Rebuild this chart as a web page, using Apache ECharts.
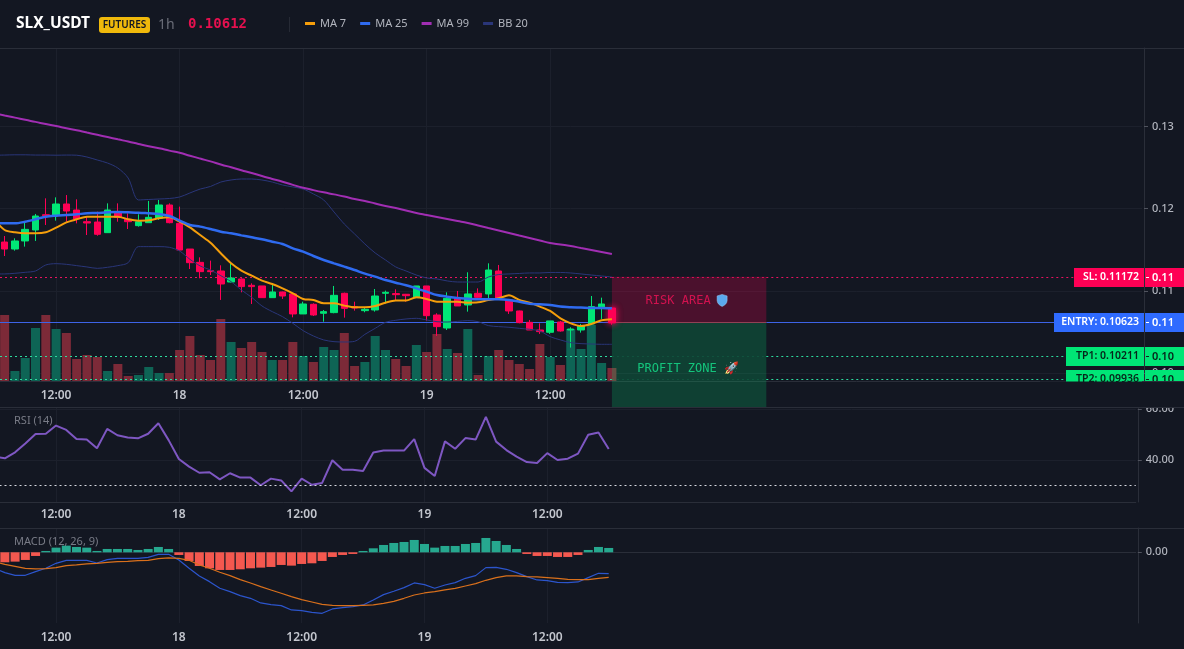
<!DOCTYPE html>
<html>
<head>
<meta charset="utf-8">
<title>SLX_USDT 1h</title>
<style>
  html, body { margin: 0; padding: 0; background: #131722; }
  #chart { width: 1184px; height: 649px; }
</style>
<script src="https://cdn.jsdelivr.net/npm/echarts@6/dist/echarts.min.js"></script>
</head>
<body>
<div id="chart"></div>
<script>
// Hourly candles [open, close, low, high]; the first one sits just left of the visible range.
const candles = [
  [0.1170,0.1163,0.1158,0.1175],
  [0.11595,0.11510,0.11425,0.11668],[0.11510,0.11608,0.11490,0.11640],[0.11608,0.11749,0.11539,0.11830],
  [0.11741,0.11911,0.11608,0.11936],[0.11927,0.11915,0.11802,0.12126],[0.11923,0.12057,0.11855,0.12138],
  [0.12057,0.11972,0.11842,0.12166],[0.11984,0.11875,0.11822,0.12114],[0.11842,0.11826,0.11680,0.11903],
  [0.11838,0.11689,0.11672,0.11964],[0.11709,0.11984,0.11709,0.12065],[0.11956,0.11895,0.11842,0.12065],
  [0.11871,0.11842,0.11753,0.11944],[0.11794,0.11842,0.11782,0.11932],[0.11830,0.11895,0.11830,0.12094],
  [0.11883,0.12045,0.11863,0.12106],[0.12045,0.11830,0.11822,0.12065],[0.11822,0.11498,0.11490,0.12025],
  [0.11510,0.11344,0.11267,0.11510],[0.11348,0.11235,0.11154,0.11409],[0.11247,0.11235,0.11194,0.11369],
  [0.11243,0.11085,0.10891,0.11312],[0.11109,0.11158,0.11105,0.11336],[0.11146,0.11053,0.10984,0.11154],
  [0.11069,0.11053,0.10842,0.11093],[0.11061,0.10919,0.10919,0.11061],[0.10919,0.10988,0.10919,0.11093],
  [0.10988,0.10939,0.10903,0.10992],[0.10964,0.10721,0.10680,0.10972],[0.10721,0.10842,0.10721,0.10870],
  [0.10838,0.10708,0.10696,0.10850],[0.10729,0.10749,0.10627,0.10769],[0.10737,0.10947,0.10729,0.11061],
  [0.10972,0.10789,0.10676,0.10980],[0.10810,0.10793,0.10761,0.10870],[0.10761,0.10777,0.10741,0.10802],
  [0.10769,0.10939,0.10749,0.11024],[0.10972,0.10984,0.10850,0.11004],[0.10968,0.10955,0.10891,0.11020],
  [0.10960,0.10943,0.10870,0.10964],[0.10919,0.11061,0.10919,0.11061],[0.11061,0.10700,0.10640,0.11061],
  [0.10708,0.10567,0.10453,0.10729],[0.10550,0.10911,0.10526,0.10984],[0.10919,0.10818,0.10818,0.11000],
  [0.10830,0.10964,0.10749,0.11227],[0.10972,0.10923,0.10919,0.11032],[0.10964,0.11255,0.10911,0.11336],
  [0.11243,0.10911,0.10903,0.11316],[0.10891,0.10757,0.10721,0.10903],[0.10757,0.10615,0.10607,0.10761],
  [0.10619,0.10526,0.10526,0.10648],[0.10526,0.10506,0.10478,0.10607],[0.10498,0.10636,0.10478,0.10636],
  [0.10623,0.10514,0.10506,0.10636],[0.10526,0.10538,0.10312,0.10559],[0.10526,0.10579,0.10494,0.10599],
  [0.10599,0.10810,0.10587,0.10939],[0.10802,0.10842,0.10660,0.10919],[0.10793,0.10612,0.10590,0.10800]
];
const volumes = [40,66,10,23,53,66,52,48,22,26,24,10,17,5,6,14,8,8,31,45,26,21,62,39,33,39,29,21,21,39,25,
  19,34,31,48,15,19,45,31,22,15,36,29,47,32,28,52,6,25,31,21,17,12,37,24,16,52,32,56,18,13];
const ma7 = [0.11871,0.11741,0.11713,0.11701,0.11701,0.11713,0.11770,0.11834,0.11871,0.11903,0.11903,0.11903,0.11903,
  0.11871,0.11855,0.11859,0.11883,0.11895,0.11842,0.11774,0.11680,0.11587,0.11458,0.11336,0.11247,0.11186,0.11126,
  0.11085,0.11032,0.10972,0.10903,0.10891,0.10850,0.10850,0.10822,0.10802,0.10802,0.10818,0.10858,0.10883,0.10883,
  0.10923,0.10903,0.10870,0.10870,0.10870,0.10858,0.10862,0.10891,0.10911,0.10947,0.10891,0.10858,0.10810,0.10757,
  0.10668,0.10607,0.10575,0.10599,0.10644,0.10656];
const ma25 = [0.11830,0.11822,0.11822,0.11842,0.11871,0.11903,0.11915,0.11923,0.11932,0.11944,0.11948,0.11956,0.11960,
  0.11956,0.11952,0.11944,0.11936,0.11911,0.11855,0.11802,0.11782,0.11753,0.11721,0.11701,0.11676,0.11652,0.11628,
  0.11599,0.11571,0.11518,0.11478,0.11425,0.11377,0.11336,0.11296,0.11255,0.11211,0.11174,0.11134,0.11101,0.11069,
  0.11032,0.10992,0.10951,0.10931,0.10915,0.10907,0.10899,0.10899,0.10899,0.10891,0.10870,0.10846,0.10838,0.10830,
  0.10810,0.10802,0.10798,0.10793,0.10793,0.10789];
const ma99 = [0.13158,0.13132,0.13107,0.13080,0.13055,0.13029,0.13005,0.12978,0.12953,0.12925,0.12898,0.12871,0.12843,
  0.12816,0.12787,0.12759,0.12734,0.12706,0.12679,0.12644,0.12609,0.12575,0.12538,0.12503,0.12468,0.12434,0.12397,
  0.12362,0.12327,0.12290,0.12255,0.12226,0.12199,0.12174,0.12148,0.12118,0.12094,0.12063,0.12033,0.12008,0.11978,
  0.11948,0.11923,0.11899,0.11875,0.11851,0.11826,0.11796,0.11765,0.11735,0.11705,0.11674,0.11644,0.11614,0.11583,
  0.11565,0.11547,0.11522,0.11498,0.11474,0.11450];
const bbUpper = [0.12650,0.12652,0.12655,0.12655,0.12652,0.12652,0.12650,0.12652,0.12650,0.12628,0.12592,0.12555,0.12494,
  0.12373,0.12106,0.12112,0.12118,0.12124,0.12142,0.12191,0.12239,0.12270,0.12324,0.12349,0.12361,0.12361,0.12349,
  0.12324,0.12288,0.12264,0.12239,0.12179,0.12106,0.11960,0.11814,0.11693,0.11571,0.11462,0.11377,0.11292,0.11243,
  0.11194,0.11158,0.11146,0.11122,0.11109,0.11109,0.11109,0.11170,0.11200,0.11207,0.11213,0.11219,0.11219,0.11225,
  0.11225,0.11219,0.11207,0.11194,0.11182,0.11170];
const bbLower = [0.11207,0.11207,0.11215,0.11227,0.11243,0.11316,0.11332,0.11324,0.11308,0.11292,0.11275,0.11288,0.11308,
  0.11344,0.11539,0.11539,0.11539,0.11531,0.11486,0.11385,0.11304,0.11255,0.11186,0.11113,0.11012,0.10923,0.10818,
  0.10749,0.10688,0.10607,0.10518,0.10453,0.10405,0.10384,0.10380,0.10388,0.10473,0.10546,0.10619,0.10644,0.10660,
  0.10668,0.10648,0.10627,0.10623,0.10631,0.10640,0.10627,0.10579,0.10567,0.10559,0.10546,0.10534,0.10514,0.10445,
  0.10405,0.10372,0.10360,0.10356,0.10352,0.10352];
const rsi = [41.3,40.65,43.0,46.5,50.2,50.3,53.5,51.8,48.2,48.0,44.6,52.2,49.7,48.8,48.5,50.3,54.4,47.8,40.4,37.4,35.0,35.2,
  32.4,34.8,33.1,33.1,30.1,32.7,32.0,27.7,32.7,30.3,31.0,39.9,36.2,36.2,35.7,42.9,43.7,43.7,43.7,48.2,36.9,33.7,47.3,44.4,
  48.6,48.0,56.9,47.2,43.9,41.3,39.2,38.8,42.7,40.0,40.5,42.5,49.9,50.8,44.3];
const macdHist = [-0.00032,-0.00030,-0.00028,-0.00023,-0.00011,0.00004,0.00014,0.00020,0.00016,0.00014,0.00004,0.00010,0.00010,
  0.00010,0.00007,0.00010,0.00016,0.00010,-0.00008,-0.00026,-0.00041,-0.00048,-0.00053,-0.00053,-0.00051,-0.00048,-0.00046,
  -0.00044,-0.00038,-0.00040,-0.00035,-0.00033,-0.00026,-0.00014,-0.00008,-0.00005,0.00004,0.00012,0.00022,0.00028,0.00031,
  0.00037,0.00025,0.00014,0.00019,0.00019,0.00025,0.00028,0.00043,0.00034,0.00022,0.00010,-0.00005,-0.00011,-0.00011,
  -0.00014,-0.00014,-0.00008,0.00007,0.00016,0.00013];
const macdLine = [-0.00048,-0.00061,-0.00069,-0.00069,-0.00058,-0.00048,-0.00033,-0.00024,-0.00024,-0.00024,-0.00032,-0.00022,
  -0.00018,-0.00018,-0.00018,-0.00015,-0.00006,-0.00006,-0.00023,-0.00048,-0.00071,-0.00088,-0.00108,-0.00118,-0.00130,
  -0.00138,-0.00152,-0.00157,-0.00160,-0.00173,-0.00175,-0.00180,-0.00183,-0.00170,-0.00166,-0.00163,-0.00158,-0.00143,
  -0.00127,-0.00117,-0.00106,-0.00092,-0.00097,-0.00108,-0.00098,-0.00091,-0.00078,-0.00070,-0.00046,-0.00045,-0.00051,
  -0.00061,-0.00073,-0.00083,-0.00085,-0.00090,-0.00091,-0.00089,-0.00076,-0.00063,-0.00064];
const macdSignal = [-0.00028,-0.00036,-0.00042,-0.00048,-0.00050,-0.00049,-0.00046,-0.00040,-0.00038,-0.00035,-0.00033,-0.00030,
  -0.00028,-0.00027,-0.00025,-0.00024,-0.00019,-0.00017,-0.00018,-0.00024,-0.00038,-0.00048,-0.00060,-0.00070,-0.00082,
  -0.00092,-0.00103,-0.00113,-0.00123,-0.00133,-0.00142,-0.00149,-0.00156,-0.00159,-0.00160,-0.00160,-0.00159,-0.00158,
  -0.00153,-0.00147,-0.00138,-0.00128,-0.00122,-0.00118,-0.00113,-0.00108,-0.00101,-0.00094,-0.00084,-0.00076,-0.00071,
  -0.00071,-0.00073,-0.00074,-0.00076,-0.00078,-0.00081,-0.00082,-0.00082,-0.00078,-0.00075];

const priceTicks = [0.10, 0.11, 0.12, 0.13];
const rsiTicks = [40, 60];
const macdTicks = [0];
const rsiGuide = 30;

const levelNames = ['SL', 'ENTRY', 'TP1', 'TP2'];
const levelPrices = [0.11172, 0.10623, 0.10211, 0.09936];
const zoneNames = ['RISK AREA', 'PROFIT ZONE 🚀'];
const zoneTops = [0.11172, 0.10623];
const zoneBottoms = [0.10623, 0.09590];
const lastPrice = '0.10612';

// Time axis: one slot per hour, running on past the last candle to the price scale.
const startDay = 17, startHour = 6, slotCount = 112, lastCandle = candles.length - 1, zoneEnd = lastCandle + 15;
const categories = [];
for (let i = 0; i < slotCount; i++) {
  const h = startHour + i;
  categories.push({ day: startDay + Math.floor(h / 24), hour: h % 24 });
}
const slotNames = categories.map(c => c.day + ' ' + String(c.hour).padStart(2, '0') + ':00');
const isTick = i => i <= lastCandle && (categories[i].hour === 0 || categories[i].hour === 12);
const tickText = (v, i) => categories[i].hour === 0 ? String(categories[i].day) : '12:00';

// Palette
const BG = '#131722', GRID = '#1c202c', EDGE = '#2a2e39', LABEL = '#c3c6ce', MUTED = '#b2b5be';
const UP = '#00e676', DOWN = '#ff0055', VOL_UP = '#0e6455', VOL_DOWN = '#7c2a38';
const FONT = '"Noto Sans", sans-serif';

// Pane frames: band widths put the hourly ticks where the panes expect them
const mainGrid = { left: -10.8, top: 48, width: 1152.8, height: 333, outerBoundsMode: 'none' };
const rsiGrid = { left: -10.5, top: 408, width: 1146.3, height: 94, outerBoundsMode: 'none' };
const macdGrid = { left: -10.5, top: 528, width: 1146.3, height: 95, outerBoundsMode: 'none' };

function timeAxis(gridIndex, margin) {
  return {
    type: 'category', gridIndex, data: slotNames, boundaryGap: true,
    axisLine: { show: true, lineStyle: { color: EDGE } },
    axisTick: { show: false },
    axisLabel: { interval: (i) => isTick(i), formatter: tickText, color: LABEL, fontFamily: FONT, fontSize: 12, fontWeight: 600, margin },
    splitLine: { show: true, interval: (i) => isTick(i), alignWithLabel: true, lineStyle: { color: GRID } }
  };
}
function valueAxis(gridIndex, min, max, ticks, digits) {
  return {
    type: 'value', gridIndex, min, max, position: 'right', offset: 2,
    axisLine: { show: true, lineStyle: { color: EDGE } },
    axisTick: { show: true, length: 4, customValues: ticks, lineStyle: { color: '#50535e' } },
    axisLabel: { customValues: ticks, formatter: v => v.toFixed(digits), color: MUTED, fontFamily: FONT, fontSize: 11, fontWeight: 500, margin: 8 },
    splitLine: { show: true, lineStyle: { color: GRID } }
  };
}
function maLine(name, data, color, width, smooth) {
  return { name, type: 'line', data, xAxisIndex: 0, yAxisIndex: 0, symbol: 'none', smooth, z: 6, color,
    lineStyle: { color, width } };
}

// Horizontal order lines with their tags on the price scale.
const lineStyles = [
  { stroke: '#e8125f', dash: [2, 3] }, { stroke: '#3d63e6', dash: null },
  { stroke: '#2ddc9f', dash: [2, 3] }, { stroke: '#2ddc9f', dash: [2, 3] }
];
const tagStyles = [
  { fill: DOWN, text: '#ffffff', left: 1074 }, { fill: '#2f6bff', text: '#ffffff', left: 1054 },
  { fill: UP, text: '#06251a', left: 1066 }, { fill: UP, text: '#06251a', left: 1066 }
];
function renderLevel(params, api) {
  const i = params.dataIndex;
  const y = Math.round(api.coord([0, api.value(1)])[1]) + 0.5;
  const a = api.coord([lastCandle, 0])[0], b = api.coord([zoneEnd, 0])[0];
  const s = lineStyles[i], t = tagStyles[i];
  const seg = (x1, x2, opacity) => ({ type: 'line', shape: { x1, y1: y, x2, y2: y },
    style: { stroke: s.stroke, lineWidth: 1, lineDash: s.dash, opacity } });
  const price = api.value(1);
  return { type: 'group', children: [
    seg(0, a, 1), seg(a, b, i === 0 ? 0.9 : 0.12), seg(b, t.left, 1),
    { type: 'rect', shape: { x: t.left, y: y - 9.5, width: 1144 - t.left, height: 19 }, style: { fill: t.fill } },
    { type: 'rect', shape: { x: 1145, y: y - 9.5, width: 39, height: 19 }, style: { fill: t.fill } },
    { type: 'line', shape: { x1: 1146, y1: y, x2: 1149, y2: y }, style: { stroke: t.text, lineWidth: 1 } },
    { type: 'text', style: { x: 1139, y, text: levelNames[i] + ': ' + price.toFixed(5), fill: t.text,
        font: '600 10.5px ' + FONT, align: 'right', verticalAlign: 'middle' } },
    { type: 'text', style: { x: 1163, y, text: price.toFixed(2), fill: t.text,
        font: '600 11px ' + FONT, align: 'center', verticalAlign: 'middle' } }
  ] };
}

// Shaded risk and profit blocks to the right of the last candle.
const zoneStyles = [
  { fill: 'rgba(255,0,85,0.24)', edge: '#b51a4d', text: '#d2124f' },
  { fill: 'rgba(0,230,118,0.20)', edge: 'rgba(0,230,118,0.10)', text: '#14c47c' }
];
function renderZone(params, api) {
  const i = params.dataIndex;
  const p0 = api.coord([lastCandle, api.value(1)]), p1 = api.coord([zoneEnd, api.value(2)]);
  const z = zoneStyles[i];
  const y2 = Math.round(p1[1]);
  const cx = i === 0 ? (p0[0] + p1[0]) / 2 - 11 : (p0[0] + p1[0]) / 2 - 1;
  const middle = i === 0 ? (p0[1] + p1[1]) / 2 + 1 : 369;
  const children = [
    { type: 'rect', shape: { x: p0[0], y: p0[1], width: p1[0] - p0[0], height: p1[1] - p0[1] }, style: { fill: z.fill } },
    { type: 'line', shape: { x1: p0[0], y1: y2 + 0.5, x2: p1[0], y2: y2 + 0.5 }, style: { stroke: z.edge, lineWidth: 1 } },
    { type: 'text', style: { x: cx, y: middle, text: zoneNames[i], fill: z.text,
        font: '12px "DejaVu Sans Mono", monospace', align: 'center', verticalAlign: 'middle' } }
  ];
  if (i === 0) {
    // Small blue shield after the risk caption
    children.push({ type: 'path', x: cx + 39, y: middle - 6,
      shape: { pathData: 'M5 0 L10 1.5 L10 6 C10 9 7.5 11 5 12 C2.5 11 0 9 0 6 L0 1.5 Z', layout: 'cover',
               x: 0, y: 0, width: 10, height: 12 },
      style: { fill: '#5aa9ee', stroke: '#9ccaf2', lineWidth: 0.5 } });
  }
  return { type: 'group', children };
}

// Header row and pane captions
const headerText = (x, y, text, fill, font, align) => ({ type: 'text', x, y, z: 120,
  style: { text, fill, font, align: align || 'left', verticalAlign: 'middle' } });
const rule = (x1, y1, x2, y2, color) => ({ type: 'line', z: 110, silent: true,
  shape: { x1, y1, x2, y2 }, style: { stroke: color || EDGE, lineWidth: 1 } });

// The forming candle carries a soft glow
const candleItems = candles.map((value, i) => i === lastCandle
  ? { value, itemStyle: { shadowColor: DOWN, shadowBlur: 6 } }
  : value);

const option = {
  backgroundColor: BG,
  animation: false,
  legend: {
    left: 305, top: 18, padding: 0, itemWidth: 10, itemHeight: 3, itemGap: 14, icon: 'rect', selectedMode: false,
    data: ['MA 7', 'MA 25', 'MA 99', 'BB 20'],
    textStyle: { color: MUTED, fontFamily: FONT, fontSize: 11 },
    itemStyle: { borderWidth: 0 }
  },
  grid: [mainGrid, rsiGrid, macdGrid],
  xAxis: [timeAxis(0, 9), timeAxis(1, 7), timeAxis(2, 9)],
  yAxis: [
    valueAxis(0, 0.09906, 0.13953, priceTicks, 2),
    { type: 'value', gridIndex: 0, min: 0, max: 333, show: false, splitLine: { show: false } },
    valueAxis(1, 23.53, 60.39, rsiTicks, 2),
    valueAxis(2, -0.002121, 0.000729, macdTicks, 2)
  ],
  graphic: [
    { type: 'rect', z: 100, silent: true, shape: { x: 1040, y: 381.5, width: 144, height: 26 }, style: { fill: BG } },
    rule(0, 48.5, 1184, 48.5), rule(1142, 381.5, 1184, 381.5), rule(0, 407.5, 1184, 407.5), rule(0, 528.5, 1184, 528.5),
    headerText(16, 24, 'SLX_USDT', '#ffffff', '700 15.5px ' + FONT),
    { type: 'rect', z: 115, shape: { x: 99, y: 17, width: 51, height: 16, r: 3 }, style: { fill: '#f0b90b' } },
    headerText(124.5, 25, 'FUTURES', '#131722', '600 10px ' + FONT, 'center'),
    headerText(158, 25, '1h', '#6a6d78', '14px ' + FONT),
    headerText(188, 24.5, lastPrice, '#e6104f', '700 14px "DejaVu Sans Mono", monospace'),
    rule(289.5, 17, 289.5, 32, '#262a35'),
    headerText(14, 421, 'RSI (14)', '#787b86', '11px ' + FONT),
    headerText(14, 541.5, 'MACD (12, 26, 9)', '#787b86', '11px ' + FONT)
  ],
  series: [
    { name: 'Volume', type: 'bar', data: volumes, xAxisIndex: 0, yAxisIndex: 1, barWidth: 9, z: 1,
      itemStyle: { color: p => candles[p.dataIndex][1] >= candles[p.dataIndex][0] ? VOL_UP : VOL_DOWN } },
    maLine('BB 20', bbUpper, '#2a3679', 1, 0.3),
    maLine('BB 20', bbLower, '#2a3679', 1, 0.3),
    { name: 'Levels', type: 'custom', xAxisIndex: 0, yAxisIndex: 0, z: 2, clip: false, renderItem: renderLevel,
      data: levelPrices.map((p, i) => [i, p]), encode: { x: 0, y: 1 } },
    { name: 'Zones', type: 'custom', xAxisIndex: 0, yAxisIndex: 0, z: 3, clip: false, renderItem: renderZone,
      data: zoneTops.map((t, i) => [i, t, zoneBottoms[i]]), encode: { x: 0, y: [1, 2] } },
    { name: 'Candles', type: 'candlestick', data: candleItems, xAxisIndex: 0, yAxisIndex: 0, barWidth: 7, z: 4,
      itemStyle: { color: UP, color0: DOWN, borderColor: UP, borderColor0: DOWN, borderWidth: 1 } },
    maLine('MA 7', ma7, '#f59e0b', 2, 0.3),
    maLine('MA 25', ma25, '#2f6bf0', 2.5, 0.3),
    maLine('MA 99', ma99, '#a12eb3', 2, 0.5),
    { name: 'RSI', type: 'line', data: rsi, xAxisIndex: 1, yAxisIndex: 2, symbol: 'none',
      lineStyle: { color: '#7e57c2', width: 2 },
      markLine: { silent: true, symbol: 'none', label: { show: false },
        lineStyle: { color: '#d6d9e0', type: [2, 3], width: 1 }, data: [{ yAxis: rsiGuide }] } },
    { name: 'Histogram', type: 'bar', data: macdHist, xAxisIndex: 2, yAxisIndex: 3, barWidth: 9,
      itemStyle: { color: p => p.value >= 0 ? '#26a88f' : '#f4584f' } },
    { name: 'MACD', type: 'line', data: macdLine, xAxisIndex: 2, yAxisIndex: 3, symbol: 'none', lineStyle: { color: '#2c55cc', width: 1.2 } },
    { name: 'Signal', type: 'line', data: macdSignal, xAxisIndex: 2, yAxisIndex: 3, symbol: 'none', lineStyle: { color: '#d9701c', width: 1.2 } }
  ]
};

const chart = echarts.init(document.getElementById('chart'), null, { renderer: 'canvas' });
chart.setOption(option);
</script>
</body>
</html>
